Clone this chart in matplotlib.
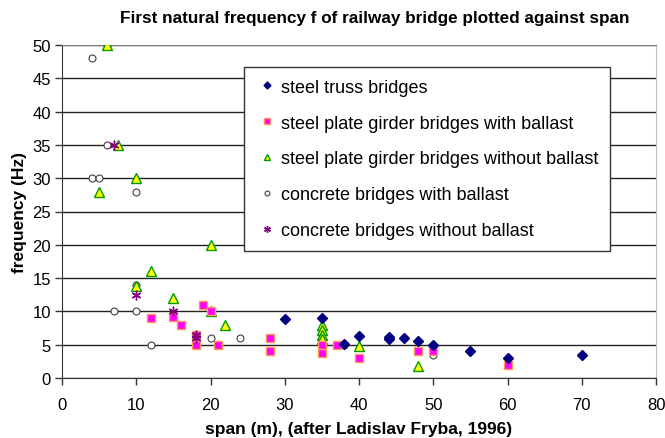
import numpy as np
import matplotlib
matplotlib.use("Agg")
import matplotlib.pyplot as plt

plt.rcParams['font.family'] = ['Liberation Sans', 'DejaVu Sans']

# steel truss bridges
truss_x = [30, 35, 38, 40, 44, 44, 46, 48, 50, 55, 60, 70]
truss_f = [8.8, 9, 5.1, 6.3, 6.2, 5.9, 6, 5.5, 5, 4, 3, 3.4]

# steel plate girder bridges with ballast
pgb_x = [12, 15, 16, 18, 18, 19, 20, 21, 28, 28, 35, 35, 37, 40, 48, 50, 60]
pgb_f = [9, 9.2, 8, 6.5, 5, 11, 10, 5, 6, 4, 5, 3.7, 5, 3, 4, 4.1, 2]

# steel plate girder bridges without ballast
pgn_x = [6, 7.5, 10, 5, 20, 12, 10, 15, 20, 22, 35, 35, 35, 35, 40, 48]
pgn_f = [50, 35, 30, 28, 20, 16, 13.8, 12, 10, 8, 8, 7.2, 6.5, 5.8, 4.8, 1.8]

# concrete bridges with ballast
cb_x = [6, 4, 6, 4, 5, 10, 10, 7, 10, 12, 18, 20, 24, 35, 38, 50, 50]
cb_f = [50, 48, 35, 30, 30, 28, 14, 10, 10, 5, 5.6, 6, 6, 4.1, 5, 3.6, 3.4]

# concrete bridges without ballast
cn_x = [7, 10, 15, 18, 18]
cn_f = [35, 12.5, 10, 6.5, 6]

fig = plt.figure(figsize=(6.65, 4.39), dpi=100)
ax = fig.add_axes([62/665, 1 - 379/439, 594/665, 333/439])

ax.set_axisbelow(True)
ax.yaxis.grid(True, color='#222222', lw=1)

ax.plot(cb_x, cb_f, 'o', ms=5, mfc='white', mec='#404040', mew=0.8, ls='none',
        label='concrete bridges with ballast', zorder=3)
ax.plot(pgn_x, pgn_f, '^', ms=7, mfc='#ffff00', mec='#009900', mew=1, ls='none',
        label='steel plate girder bridges without ballast', zorder=4)
ax.plot(pgb_x, pgb_f, 's', ms=5.5, mfc='#ff00ff', mec='#ff9955', mew=1, ls='none',
        label='steel plate girder bridges with ballast', zorder=4)
ax.plot(cn_x, cn_f, marker=(6, 2, 0), ms=7, mec='#800080', mew=1, ls='none',
        label='concrete bridges without ballast', zorder=5)
ax.plot(truss_x, truss_f, 'D', ms=5, mfc='#000080', mec='#000080', ls='none',
        label='steel truss bridges', zorder=5)

ax.set_xlim(0, 80)
ax.set_ylim(0, 50)
ax.set_xticks(np.arange(0, 81, 10))
ax.set_yticks(np.arange(0, 51, 5))
ax.tick_params(direction='out', length=5, width=1, color='#333333', labelsize=12)
ax.tick_params(axis='x', pad=9)
ax.tick_params(axis='y', pad=3)

ax.spines['left'].set_color('#333333')
ax.spines['bottom'].set_color('#333333')
ax.spines['top'].set_color('#808080')
ax.spines['right'].set_color('#c0c0c0')

ax.set_xlabel('span (m), (after Ladislav Fryba, 1996)', fontsize=12.5, fontweight='bold', labelpad=6)
ax.set_ylabel('frequency (Hz)', fontsize=12.5, fontweight='bold', labelpad=4)
fig.suptitle('First natural frequency f of railway bridge plotted against span',
             x=0.564, y=0.975, fontsize=12.3, fontweight='bold')

h, l = ax.get_legend_handles_labels()
order = [4, 2, 1, 0, 3]
leg = ax.legend([h[i] for i in order], [l[i] for i in order],
                loc='upper left', bbox_to_anchor=(244/665, 1 - 68/439),
                bbox_transform=fig.transFigure, fontsize=13,
                frameon=True, fancybox=False, framealpha=1, edgecolor='#333333',
                labelspacing=1.04, handletextpad=0.2, handlelength=1.2,
                borderpad=0.65, borderaxespad=0)
leg.get_frame().set_linewidth(1)
for hh in leg.legend_handles:
    hh.set_markersize(hh.get_markersize() * 0.7)

fig.savefig('out.png', dpi=100)
